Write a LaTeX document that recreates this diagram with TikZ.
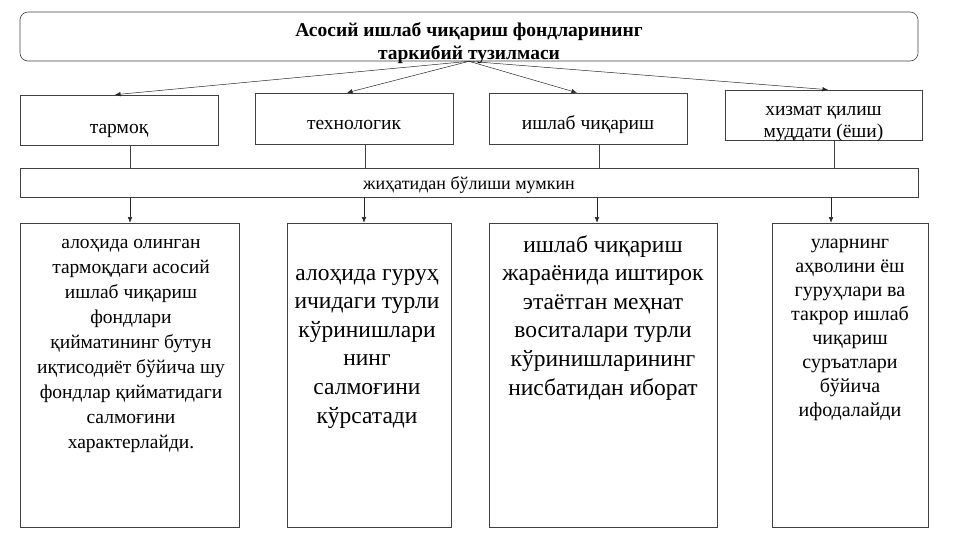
\documentclass[tikz,border=0pt]{standalone}
\usepackage{fontspec}
\setmainfont{Liberation Serif}
\usetikzlibrary{positioning,arrows.meta}

\tikzset{
  box/.style={rectangle, draw=black!75, line width=0.6pt, inner sep=0pt},
  txt/.style={align=center, inner sep=0pt, anchor=base},
  arr/.style={-{Latex[length=5.5pt,width=4.5pt]}, draw=black!85, line width=0.5pt},
  link/.style={draw=black!75, line width=0.5pt}
}

\begin{document}
\begin{tikzpicture}[x=1pt,y=-1pt]
  \useasboundingbox (0,0) rectangle (961,540);

  % title (text anchored at the baseline of its last line)
  \node[box, rounded corners=8pt, minimum width=898pt, minimum height=49pt](title) at (469,36.5) {};
  \node[txt, font=\bfseries\fontsize{19.5}{23}\selectfont](titletxt) at (469,60) {Асосий ишлаб чиқариш фондларининг\\таркибий тузилмаси};

  % kinds
  \node[box, minimum width=198pt, minimum height=50pt](tarmoq) at (119,120) {};
  \node[box, minimum width=198pt, minimum height=51pt](tech) at (354,118.5) {};
  \node[box, minimum width=198pt, minimum height=51pt](ishlab) at (588,118.5) {};
  \node[box, minimum width=197pt, minimum height=50pt](xizmat) at (823.5,115) {};
  \node[txt, font=\fontsize{19.5}{22}\selectfont](tarmoqtxt) at (119,134) {тармоқ};
  \node[txt, font=\fontsize{19.5}{22}\selectfont](techtxt) at (354,130) {технологик};
  \node[txt, font=\fontsize{19.5}{22}\selectfont](ishlabtxt) at (588,130) {ишлаб чиқариш};
  \node[txt, font=\fontsize{19.5}{22}\selectfont](xizmattxt) at (823.5,138) {хизмат қилиш\\муддати (ёши)};

  \draw[arr] (title.south) -- ([xshift=-4pt]tarmoq.north);
  \draw[arr] (title.south) -- ([xshift=-7pt]tech.north);
  \draw[arr] (title.south) -- ([xshift=-11pt]ishlab.north);
  \draw[arr] (title.south) -- ([xshift=4.5pt]xizmat.north);

  % bar
  \node[box, minimum width=898pt, minimum height=29pt](bar) at (469,182.5) {};
  \node[txt, font=\fontsize{18}{22}\selectfont](bartxt) at (469,190) {жиҳатидан бўлиши мумкин};

  \draw[link] ([xshift=11pt]tarmoq.south) -- ([xshift=11pt]tarmoq.south |- bar.north);
  \draw[link] ([xshift=11pt]tech.south) -- ([xshift=11pt]tech.south |- bar.north);
  \draw[link] ([xshift=11pt]ishlab.south) -- ([xshift=11pt]ishlab.south |- bar.north);
  \draw[link] ([xshift=11pt]xizmat.south) -- ([xshift=11pt]xizmat.south |- bar.north);

  % details
  \node[box, minimum width=219pt, minimum height=304pt](low1) at (129.5,375) {};
  \node[box, minimum width=164pt, minimum height=304pt](low2) at (369,375) {};
  \node[box, minimum width=228pt, minimum height=304pt](low3) at (603,375) {};
  \node[box, minimum width=156pt, minimum height=304pt](low4) at (850,375) {};

  \node[txt, font=\fontsize{19.5}{25}\selectfont](low1txt) at (131,448)
    {алоҳида олинган\\тармоқдаги асосий\\ишлаб чиқариш\\фондлари\\қийматининг бутун\\иқтисодиёт бўйича шу\\фондлар қийматидаги\\салмоғини\\характерлайди.};
  \node[txt, font=\fontsize{23.5}{28.6}\selectfont](low2txt) at (367,423)
    {алоҳида гуруҳ\\ичидаги турли\\кўринишлари\\нинг\\салмоғини\\кўрсатади};
  \node[txt, font=\fontsize{23.5}{28.6}\selectfont](low3txt) at (603,395)
    {ишлаб чиқариш\\жараёнида иштирок\\этаётган меҳнат\\воситалари турли\\кўринишларининг\\нисбатидан иборат};
  \node[txt, font=\fontsize{20}{24}\selectfont](low4txt) at (850,416)
    {уларнинг\\аҳволини ёш\\гуруҳлари ва\\такрор ишлаб\\чиқариш\\суръатлари\\бўйича\\ифодалайди};

  \draw[arr] ([xshift=11pt]tarmoq.south |- bar.south) -- ([xshift=11pt]tarmoq.south |- low1.north);
  \draw[arr] ([xshift=10pt]tech.south |- bar.south) -- ([xshift=10pt]tech.south |- low2.north);
  \draw[arr] ([xshift=9pt]ishlab.south |- bar.south) -- ([xshift=9pt]ishlab.south |- low3.north);
  \draw[arr] ([xshift=7.5pt]xizmat.south |- bar.south) -- ([xshift=7.5pt]xizmat.south |- low4.north);
\end{tikzpicture}
\end{document}
